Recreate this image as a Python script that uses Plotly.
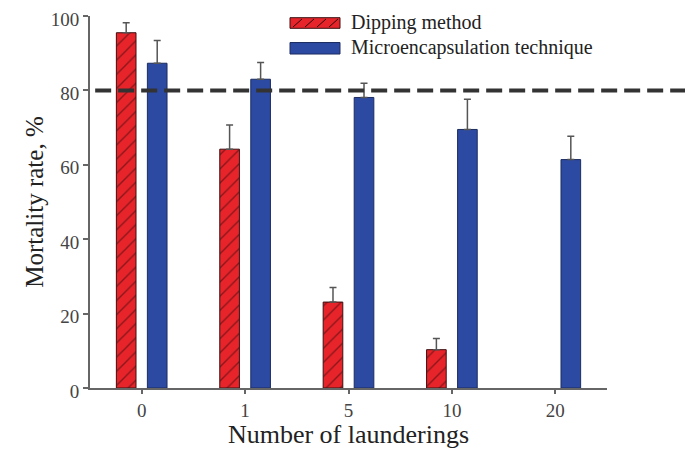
import plotly.graph_objects as go

categories = ["0", "1", "5", "10", "20"]
dipping = [95.5, 64.2, 23.1, 10.3, None]
dipping_err = [2.7, 6.5, 3.9, 3.0, None]
micro = [87.3, 83.0, 78.1, 69.5, 61.4]
micro_err = [6.1, 4.5, 3.8, 8.1, 6.3]
threshold = 80
series_names = ["Dipping method", "Microencapsulation technique"]
y_ticks = [0, 20, 40, 60, 80, 100]

FONT = "Liberation Serif, Times New Roman, serif"
RED = "#e8242b"
BLUE = "#2c4aa2"

# page has an 8px body margin; figure sized to fit the window
OFF = 8
L, T, PW, PH = 90 - OFF, 16 - OFF, 517, 371.7
W, H = 693 - OFF, 449 - OFF


def px_x(p):
    return (p - 90) / PW


def px_y(p):
    return (387.7 - p) / PH


fig = go.Figure()
fig.add_trace(go.Bar(
    x=categories, y=dipping, name=series_names[0],
    width=0.19, offset=-0.245,
    marker=dict(color=RED, line=dict(color="#3a1010", width=1),
                pattern=dict(shape="/", fillmode="overlay", fgcolor="#2a0a0a",
                             size=10, solidity=0.14)),
    error_y=dict(type="data", array=dipping_err, symmetric=False, arrayminus=[0]*5,
                 color="#555555", thickness=1.5, width=3.5),
    showlegend=False,
))
fig.add_trace(go.Bar(
    x=categories, y=micro, name=series_names[1],
    width=0.19, offset=0.055,
    marker=dict(color=BLUE, line=dict(color="#1c2c60", width=1)),
    error_y=dict(type="data", array=micro_err, symmetric=False, arrayminus=[0]*5,
                 color="#555555", thickness=1.5, width=3.5),
    showlegend=False,
))

# threshold dashed line
shapes = [dict(type="line", xref="paper", yref="y", x0=0.01, x1=px_x(700),
               y0=threshold, y1=threshold,
               line=dict(color="#333333", width=4, dash="16px,7px"))]

# custom legend patches
pw0, pw1 = px_x(290), px_x(340)
shapes.append(dict(type="rect", xref="paper", yref="paper", x0=pw0, x1=pw1,
                   y0=px_y(28.3), y1=px_y(17.7),
                   fillcolor=RED, line=dict(color="#3a1010", width=1)))
for k in range(4):
    shapes.append(dict(type="line", xref="paper", yref="paper",
                       x0=px_x(293 + k * 12), x1=px_x(302 + k * 12),
                       y0=px_y(27), y1=px_y(19),
                       line=dict(color="#2a0a0a", width=1)))
shapes.append(dict(type="rect", xref="paper", yref="paper", x0=pw0, x1=pw1,
                   y0=px_y(54), y1=px_y(42.5),
                   fillcolor=BLUE, line=dict(color="#1c2c60", width=1)))

annotations = [
    dict(text=series_names[0], xref="paper", yref="paper", x=px_x(349),
         y=px_y(22), xanchor="left", yanchor="middle", showarrow=False,
         font=dict(family=FONT, size=20, color="#222222")),
    dict(text=series_names[1], xref="paper", yref="paper", x=px_x(349),
         y=px_y(47), xanchor="left", yanchor="middle", showarrow=False,
         font=dict(family=FONT, size=20, color="#222222")),
]

fig.update_layout(
    width=W, height=H,
    margin=dict(l=L, r=W - L - PW, t=T, b=H - T - PH),
    paper_bgcolor="white", plot_bgcolor="white",
    font=dict(family=FONT, color="#333333"),
    shapes=shapes, annotations=annotations,
    xaxis=dict(
        type="category", range=[-0.5, 4.5], automargin=False,
        showline=True, linecolor="#666666", linewidth=2,
        ticks="outside", ticklen=4, tickcolor="#666666", tickwidth=1.5,
        tickfont=dict(family=FONT, size=19, color="#444444"),
        showgrid=False, zeroline=False,
        title=dict(text="Number of launderings",
                   font=dict(family=FONT, size=26, color="#222222"), standoff=2),
    ),
    yaxis=dict(
        range=[0, 100], tickvals=y_ticks, automargin=False,
        ticklabeloverflow="allow", ticklabelshift=3,
        showline=True, linecolor="#666666", linewidth=2,
        ticks="outside", ticklen=5, tickcolor="#666666", tickwidth=1.5,
        tickfont=dict(family=FONT, size=19, color="#444444"),
        showgrid=False, zeroline=False,
        title=dict(text="Mortality rate, %",
                   font=dict(family=FONT, size=25, color="#222222"), standoff=0),
    ),
)

fig.write_html("out.html")
